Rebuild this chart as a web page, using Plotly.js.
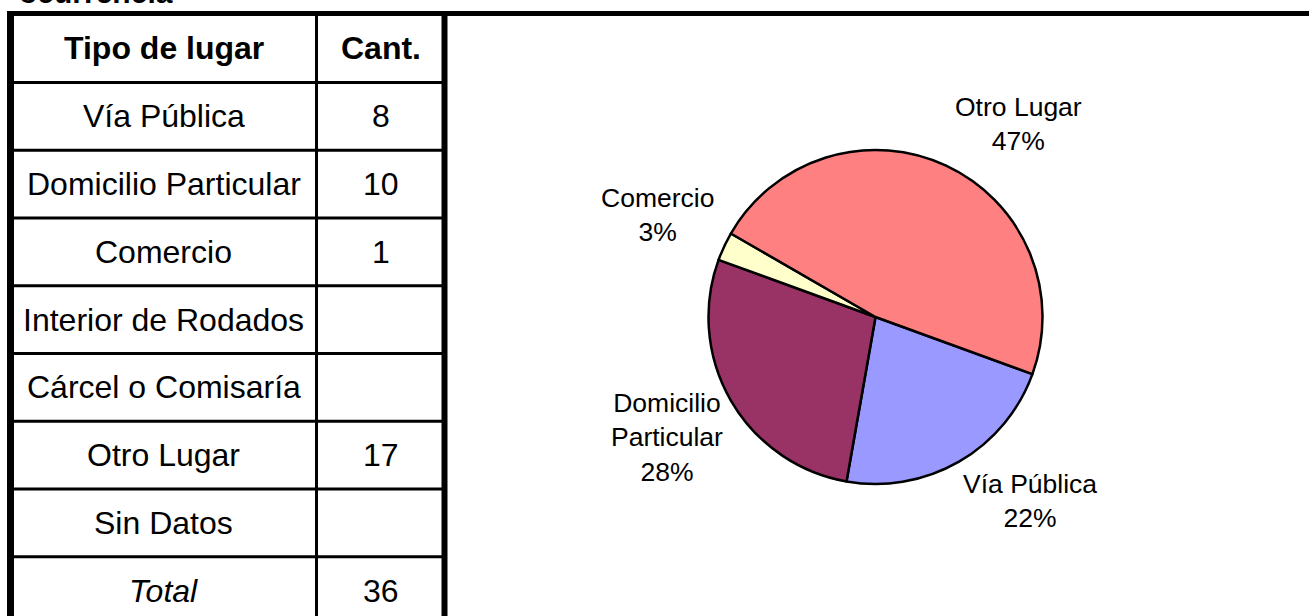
<!DOCTYPE html>
<html>
<head>
<meta charset="utf-8">
<script src="https://cdn.plot.ly/plotly-3.0.1.min.js"></script>
<style>html,body{margin:0;padding:0;background:#fff;}#chart{width:1309px;height:616px;}</style>
</head>
<body>
<div id="chart"></div>
<script>
// ---- data ----
const categories = ["Vía Pública", "Domicilio Particular", "Comercio", "Interior de Rodados", "Cárcel o Comisaría", "Otro Lugar", "Sin Datos"];
const counts = [8, 10, 1, null, null, 17, null];
const sliceColors = ["#9999FF", "#993366", "#FFFFCC", "#CCFFFF", "#660066", "#FF8080", "#0066CC"];
const headerLabels = ["Tipo de lugar", "Cant."];
const totalLabel = "Total";
const titleText = "ocurrencia";

// ---- layout constants ----
const W = 1309, H = 616;
const FONT = "Liberation Sans, Arial, sans-serif";
const px = x => x / W;
const py = y => 1 - y / H;
const pie = {cx: 875.5, cy: 317, r: 167, rotation: 110, labelDist: 1.44};
const labelAngleNudge = [-10, 0, 0, 0, 0, 11.6, 0];
const table = {left: 10.5, sep: 316.5, right: 444.5, top: 13.5, headBottom: 82.5, rowH: 67.75};

// ---- pie trace ----
const idx = categories.map((c, i) => i).filter(i => counts[i] > 0);
const total = counts.reduce((s, v) => s + (v || 0), 0);
const trace = {
  type: "pie",
  labels: idx.map(i => categories[i]),
  values: idx.map(i => counts[i]),
  marker: {colors: idx.map(i => sliceColors[i]), line: {color: "#000", width: 2.5}},
  sort: false,
  direction: "clockwise",
  rotation: pie.rotation,
  textinfo: "none",
  hoverinfo: "skip",
  showlegend: false,
  domain: {x: [px(pie.cx - pie.r), px(pie.cx + pie.r)], y: [py(pie.cy + pie.r), py(pie.cy - pie.r)]}
};

const annotations = [];
const shapes = [];

// pie labels computed from slice angles
let cum = 0;
idx.forEach(i => {
  const v = counts[i];
  const mid = pie.rotation + (cum + v / 2) / total * 360 + labelAngleNudge[i];
  cum += v;
  const a = mid * Math.PI / 180;
  const d = pie.labelDist * pie.r;
  const x = pie.cx + d * Math.sin(a);
  const y = pie.cy - d * Math.cos(a);
  const name = categories[i].length > 12 ? categories[i].replace(" ", "<br>") : categories[i];
  annotations.push({
    xref: "paper", yref: "paper", x: px(x), y: py(y), xanchor: "center", yanchor: "middle",
    text: name + "<br>" + Math.round(v / total * 100) + "%", showarrow: false, align: "center",
    font: {family: FONT, size: 26.5, color: "#000"}
  });
});

// table text
const col1 = (table.left + table.sep) / 2, col2 = (table.sep + table.right) / 2;
const headY = (table.top + table.headBottom) / 2;
function cell(x, y, text) {
  annotations.push({xref: "paper", yref: "paper", x: px(x), y: py(y), xanchor: "center", yanchor: "middle",
    text: text, showarrow: false, font: {family: FONT, size: 32, color: "#000"}});
}
cell(col1, headY, "<b>" + headerLabels[0] + "</b>");
cell(col2, headY, "<b>" + headerLabels[1] + "</b>");
categories.forEach((c, i) => {
  const y = table.headBottom + (i + 0.5) * table.rowH;
  cell(col1, y, c);
  cell(col2, y, counts[i] == null ? "" : String(counts[i]));
});
const ty = table.headBottom + (categories.length + 0.5) * table.rowH;
cell(col1, ty, "<i>" + totalLabel + "</i>");
cell(col2, ty, String(total));

// title (cut off at top, as in the source image)
annotations.push({xref: "paper", yref: "paper", x: px(17), y: py(11), xanchor: "left", yanchor: "bottom",
  text: "<b>" + titleText + "</b>", showarrow: false, font: {family: FONT, size: 30, color: "#000"}});

// table lines
function line(x0, y0, x1, y1, w) {
  shapes.push({type: "line", xref: "paper", yref: "paper", x0: px(x0), y0: py(y0), x1: px(x1), y1: py(y1),
    line: {color: "#000", width: w}});
}
for (let i = 0; i <= categories.length; i++) {
  const y = table.headBottom + i * table.rowH;
  line(table.left, y, table.right, y, 3);
}
line(table.sep, table.top, table.sep, H + 5, 3);
line(table.right, table.top, table.right, H + 5, 6);
line(table.left, 11, table.left, H + 5, 7);
line(7, table.top, W + 5, table.top, 5);

const layout = {
  width: W, height: H,
  margin: {l: 0, r: 0, t: 0, b: 0},
  paper_bgcolor: "#fff", plot_bgcolor: "#fff",
  showlegend: false,
  annotations: annotations,
  shapes: shapes
};
Plotly.newPlot("chart", [trace], layout, {displayModeBar: false, staticPlot: true});
</script>
</body>
</html>
